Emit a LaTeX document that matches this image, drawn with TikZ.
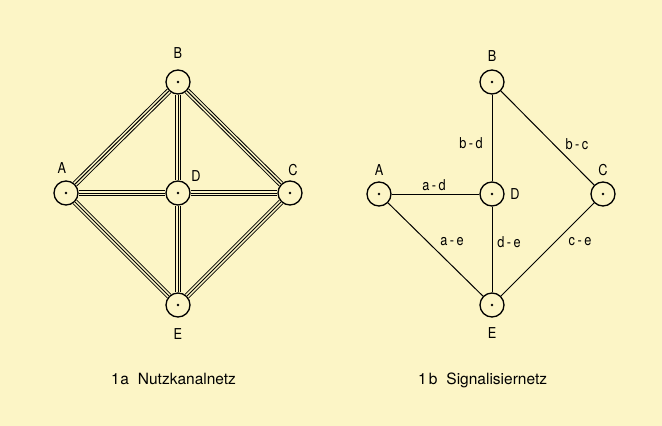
\documentclass[tikz,border=0pt]{standalone}
\usepackage{fontspec}
\setmainfont{TeX Gyre Heros}
\newfontfamily\dinfont[FakeStretch=0.85]{TeX Gyre Heros}
\definecolor{paper}{RGB}{252,245,198}
\newcommand{\dsh}{\kern2.5pt-\kern2.5pt}
\begin{document}
\begin{tikzpicture}[x=1pt,y=-1pt,
  station/.style={circle,draw=black,line width=1.3pt,fill=paper,minimum size=24pt,inner sep=0pt,
    path picture={\fill[black] (path picture bounding box.center) circle (1.3pt);}},
  lbl/.style={font=\dinfont\fontsize{15}{17}\selectfont,inner sep=1pt},
  captext/.style={font=\fontsize{15.5}{18}\selectfont,inner sep=0pt,anchor=base west},
  trunkouter/.style={draw=black,line width=6pt},
  trunkinner/.style={draw=paper,line width=4.1pt},
  trunkmid/.style={draw=black,line width=1pt},
  sig/.style={draw=black,line width=1pt}]
\fill[paper] (0,0) rectangle (662,426);
\useasboundingbox (0,0) rectangle (662,426);
% left network
\node[station] (lA) at (66,193) {};
\node[station] (lB) at (178,82) {};
\node[station] (lC) at (290,193) {};
\node[station] (lD) at (178,193) {};
\node[station] (lE) at (178,305) {};
\foreach \p/\q in {lA/lB,lB/lC,lC/lE,lE/lA,lA/lD,lD/lC,lB/lD,lD/lE}{
  \path[trunkouter] (\p) -- (\q);
  \path[trunkinner] (\p) -- (\q);
  \path[trunkmid] (\p) -- (\q);
}
\node[lbl] (tlA) at (62,168.5) {A};
\node[lbl] (tlB) at (178,53) {B};
\node[lbl] (tlC) at (293,170) {C};
\node[lbl] (tlD) at (196,176) {D};
\node[lbl] (tlE) at (178,334) {E};
% right network
\node[station] (rA) at (379,194) {};
\node[station] (rB) at (492,82) {};
\node[station] (rC) at (603,194) {};
\node[station] (rD) at (492,194) {};
\node[station] (rE) at (492,305) {};
\path[sig] (rA) -- (rD);
\path[sig] (rA) -- (rE);
\path[sig] (rB) -- (rD);
\path[sig] (rD) -- (rE);
\path[sig] (rB) -- (rC);
\path[sig] (rC) -- (rE);
\node[lbl] (trA) at (379,170) {A};
\node[lbl] (trB) at (492,56) {B};
\node[lbl] (trC) at (603,170) {C};
\node[lbl] (trD) at (515,194) {D};
\node[lbl] (trE) at (492,333) {E};
\node[lbl] (ebd) at (471,143) {b\dsh d};
\node[lbl] (ebc) at (577,144) {b\dsh c};
\node[lbl] (ead) at (434,185) {a\dsh d};
\node[lbl] (eae) at (452,242) {a\dsh e};
\node[lbl] (ede) at (509,242) {d\dsh e};
\node[lbl] (ece) at (580,242) {c\dsh e};
% captions
\node[captext] (capa) at (111,384) {1\kern0.5pt a\hspace{9pt}Nutzkanalnetz};
\node[captext] (capb) at (418,384) {1\kern2pt b\hspace{9pt}Signalisiernetz};
\end{tikzpicture}
\end{document}
